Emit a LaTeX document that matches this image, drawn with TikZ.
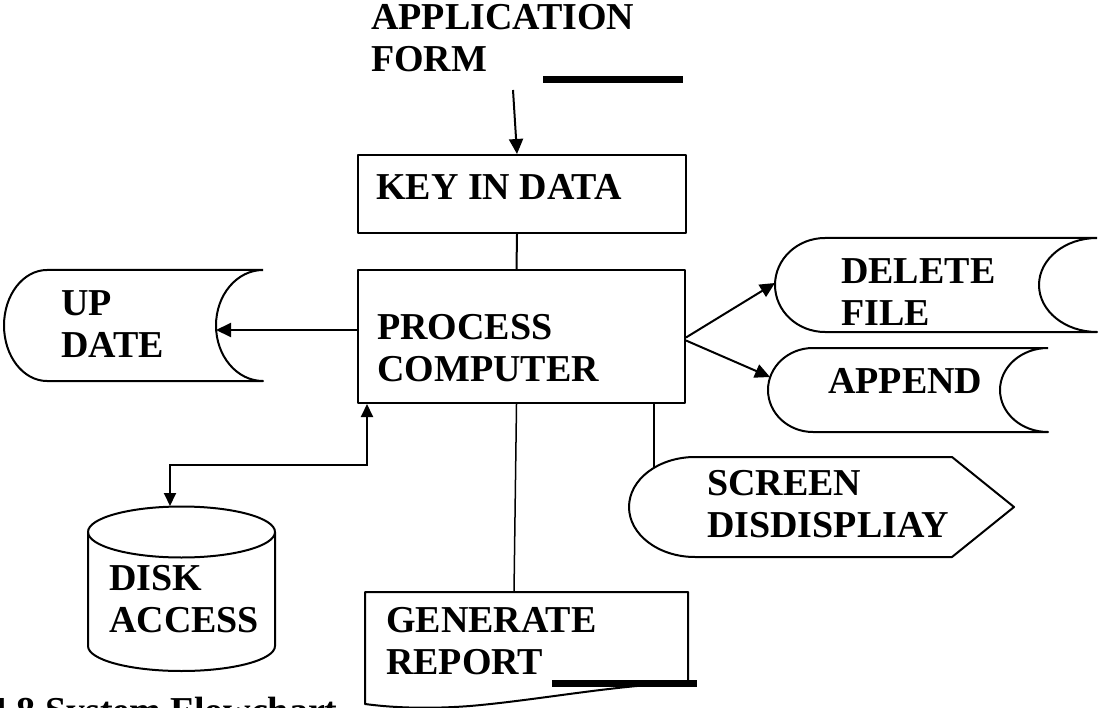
\documentclass[tikz,border=0pt]{standalone}
\usepackage{fontspec}
\setmainfont{Liberation Serif}
\usetikzlibrary{arrows.meta}
\begin{document}
\begin{tikzpicture}[x=1pt,y=-1pt,
  lbl/.style={font=\fontsize{38}{42.5}\selectfont\bfseries, anchor=north west, inner sep=0pt, align=left},
  shp/.style={draw, line width=2pt, line join=round},
  box/.style={shp, anchor=north west, inner sep=0pt},
  conn/.style={line width=2pt},
  arr/.style={conn, -{Triangle[length=15pt,width=14pt]}},
  thick bar/.style={line width=7pt}]
\useasboundingbox (0,0) rectangle (1099,708);

% ---------- boxes ----------
\node[box, minimum width=328pt, minimum height=78pt] (key) at (357,154) {};
\node[box, minimum width=327pt, minimum height=133pt] (proc) at (357,269) {};

% ---------- UP DATE (stored data) ----------
\draw[shp] (263,270) -- (47,270)
  .. controls (23.3,270) and (4,294.8) .. (4,325.5)
  .. controls (4,356.2) and (23.3,381) .. (47,381) -- (263,381)
  .. controls (237,381) and (216,356.2) .. (216,325.5)
  .. controls (216,294.8) and (237,270) .. (263,270);
\coordinate (updR) at (216,330);

% ---------- DELETE FILE ----------
\draw[shp] (1097,238) -- (825,238)
  .. controls (797.4,238) and (775,259) .. (775,285)
  .. controls (775,311) and (797.4,332) .. (825,332) -- (1097,332)
  .. controls (1065,332) and (1039,311) .. (1039,285)
  .. controls (1039,259) and (1065,238) .. (1097,238);
\coordinate (delL) at (775,283);

% ---------- APPEND ----------
\draw[shp] (1048,348) -- (813,348)
  .. controls (788.1,348) and (768,366.8) .. (768,390)
  .. controls (768,413.2) and (788.1,432) .. (813,432) -- (1048,432)
  .. controls (1021.5,432) and (1000,413.2) .. (1000,390)
  .. controls (1000,366.8) and (1021.5,348) .. (1048,348);
\coordinate (appL) at (770,377);

% ---------- SCREEN DISPLAY ----------
\draw[shp] (695,457) -- (952,457) -- (1014,507) -- (952,557) -- (695,557)
  .. controls (658.5,557) and (629,534.6) .. (629,507)
  .. controls (629,479.4) and (658.5,457) .. (695,457) -- cycle;
\coordinate (scrTop) at (654,467);

% ---------- DISK ACCESS ----------
\draw[shp] (88,532) -- (88,646) arc[start angle=180, end angle=360, x radius=93.5pt, y radius=25pt] -- (275,532);
\draw[shp] (181.5,532) ellipse[x radius=93.5pt, y radius=25.5pt];
\coordinate (diskTop) at (170,506);

% ---------- GENERATE REPORT (document) ----------
\draw[shp] (365,704) -- (365,592) -- (688,592) -- (688,683)
  .. controls (620,684) and (540,700) .. (470,706)
  .. controls (430,709) and (395,708) .. (365,704) -- cycle;
\coordinate (repTop) at (514,592);

% ---------- texts ----------
\node[lbl] (tappl) at (371,4) {APPLICATION\\FORM};
\node[lbl] (tkey) at (376,174) {KEY IN DATA};
\node[lbl] (tproc) at (377,314) {PROCESS\\COMPUTER};
\node[lbl] (tupd) at (61,290) {UP\\DATE};
\node[lbl] (tdel) at (841,258) {DELETE\\FILE};
\node[lbl] (tapp) at (828,368) {APPEND};
\node[lbl] (tscr) at (707,470) {SCREEN\\DISDISPLIAY};
\node[lbl] (tdisk) at (109,565) {DISK\\ACCESS};
\node[lbl] (trep) at (386,607) {GENERATE\\REPORT};
\node[lbl] (tcap) at (-12,697) {4.8 System Flowchart};

% ---------- thick bars ----------
\draw[thick bar] (543,80) -- (683,80);
\draw[thick bar] (552,683) -- (697,683);

% ---------- connectors ----------
\coordinate (a1) at (513,90);
\draw[arr] (a1) -- ([xshift=-5pt]key.north);
\draw[conn] ([xshift=-5pt]key.south) -- ([xshift=-5pt]proc.north);
\draw[arr] (proc.west |- updR) -- (updR);
\draw[arr] ([yshift=-1pt]proc.east) -- (delL);
\draw[arr] ([yshift=-4pt]proc.east) -- (appL);
\draw[line width=1.5pt] ([xshift=-5pt]proc.south) -- (repTop);
\draw[conn] (scrTop |- proc.south) -- (scrTop);
\draw[conn, {Triangle[length=13pt,width=12pt]}-{Triangle[length=13pt,width=12pt]}]
  (diskTop) -- ++(0,-41) -| ([xshift=10pt]proc.south west);
\end{tikzpicture}
\end{document}
